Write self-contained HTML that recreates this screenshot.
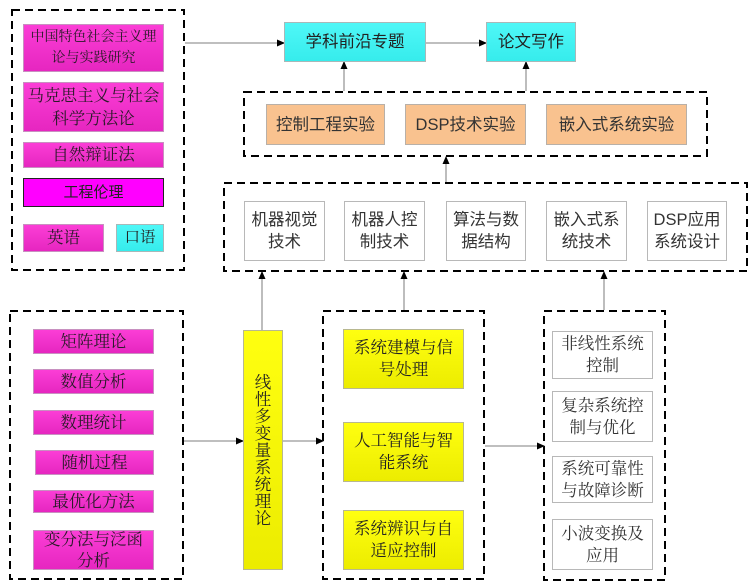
<!DOCTYPE html>
<html><head><meta charset="utf-8">
<style>
*{margin:0;padding:0;box-sizing:border-box}
body{width:750px;height:583px;background:#fff;position:relative;overflow:hidden}
.b{position:absolute;display:flex;align-items:center;justify-content:center;text-align:center;white-space:nowrap}
.sf{font-family:"Liberation Serif","Noto Serif CJK SC",serif}
.ss{font-family:"Liberation Sans","Noto Sans CJK SC",sans-serif}
.m{background:linear-gradient(#fb3ed6,#e626c0);border:1px solid #c890c0;color:#2a1a28}
.c{background:linear-gradient(#4ff7f7,#36ecec);border:1px solid #a8b8b8;color:#222}
.o{background:#f9c28f;border:1px solid #b8b0a8;color:#333}
.w{background:#fff;border:1.5px solid #b8b8b8;color:#333}
.y{background:linear-gradient(#ffff10,#ecec00);border:1px solid #b8b890;color:#222}
svg{position:absolute;left:0;top:0}
</style></head><body>
<svg width="750" height="583" viewBox="0 0 750 583">
<defs>
<marker id="a" markerWidth="8" markerHeight="8" refX="7" refY="4" orient="auto" markerUnits="userSpaceOnUse">
<path d="M0,0.5 L8,4 L0,7.5 Z" fill="#000"/></marker>
</defs>
<g fill="none" stroke="#000" stroke-width="2" stroke-dasharray="8 5">
<rect x="12" y="10" width="172" height="260"/>
<rect x="244" y="92" width="463" height="64"/>
<rect x="224" y="183" width="523" height="88"/>
<rect x="10" y="311" width="173" height="268"/>
<rect x="323" y="311" width="161" height="268"/>
<rect x="544" y="311" width="121" height="269"/>
</g>
<g stroke="#999" stroke-width="1.3" fill="none">
<line x1="185" y1="43" x2="284" y2="43" marker-end="url(#a)"/>
<line x1="426" y1="43" x2="486" y2="43" marker-end="url(#a)"/>
<line x1="344" y1="91" x2="344" y2="62" marker-end="url(#a)"/>
<line x1="526" y1="91" x2="526" y2="62" marker-end="url(#a)"/>
<line x1="446" y1="182" x2="446" y2="157" marker-end="url(#a)"/>
<line x1="262" y1="330" x2="262" y2="272" marker-end="url(#a)"/>
<line x1="404" y1="310" x2="404" y2="272" marker-end="url(#a)"/>
<line x1="604" y1="310" x2="604" y2="272" marker-end="url(#a)"/>
<line x1="184" y1="441" x2="243" y2="441" marker-end="url(#a)"/>
<line x1="283" y1="441" x2="323" y2="441" marker-end="url(#a)"/>
<line x1="485" y1="446" x2="544" y2="446" marker-end="url(#a)"/>
</g>
</svg>

<!-- left top -->
<div class="b m sf" style="left:23px;top:24px;width:141px;height:48px;font-size:14px;line-height:21px">中国特色社会主义理<br>论与实践研究</div>
<div class="b m sf" style="left:23px;top:82px;width:141px;height:50px;font-size:16.5px;line-height:23px">马克思主义与社会<br>科学方法论</div>
<div class="b m sf" style="left:23px;top:142px;width:141px;height:26px;font-size:16.5px;line-height:20px">自然辩证法</div>
<div class="b ss" style="left:23px;top:178px;width:141px;height:29px;font-size:15px;line-height:20px;background:#ff00ff;border:1.5px solid #222;color:#222">工程伦理</div>
<div class="b m sf" style="left:23px;top:224px;width:81px;height:28px;font-size:16.5px;line-height:20px">英语</div>
<div class="b c sf" style="left:116px;top:224px;width:48px;height:28px;font-size:15.5px;line-height:20px">口语</div>

<!-- top -->
<div class="b c ss" style="left:284px;top:22px;width:142px;height:40px;font-size:16.5px;line-height:22px">学科前沿专题</div>
<div class="b c ss" style="left:486px;top:22px;width:90px;height:40px;font-size:16.5px;line-height:22px">论文写作</div>

<div class="b o ss" style="left:266px;top:104px;width:119px;height:41px;font-size:16.5px;line-height:22px">控制工程实验</div>
<div class="b o ss" style="left:405px;top:104px;width:121px;height:41px;font-size:16.5px;line-height:22px">DSP技术实验</div>
<div class="b o ss" style="left:546px;top:104px;width:141px;height:41px;font-size:16.5px;line-height:22px">嵌入式系统实验</div>

<div class="b w ss" style="left:244px;top:201px;width:81px;height:60px;font-size:16.5px;line-height:22px">机器视觉<br>技术</div>
<div class="b w ss" style="left:344px;top:201px;width:81px;height:60px;font-size:16.5px;line-height:22px">机器人控<br>制技术</div>
<div class="b w ss" style="left:446px;top:201px;width:80px;height:60px;font-size:16.5px;line-height:22px">算法与数<br>据结构</div>
<div class="b w ss" style="left:546px;top:201px;width:81px;height:60px;font-size:16.5px;line-height:22px">嵌入式系<br>统技术</div>
<div class="b w ss" style="left:647px;top:201px;width:80px;height:60px;font-size:16.5px;line-height:22px">DSP应用<br>系统设计</div>

<!-- bottom left -->
<div class="b m sf" style="left:33px;top:329px;width:121px;height:25px;font-size:16.5px;line-height:20px">矩阵理论</div>
<div class="b m sf" style="left:33px;top:369px;width:121px;height:25px;font-size:16.5px;line-height:20px">数值分析</div>
<div class="b m sf" style="left:33px;top:410px;width:121px;height:25px;font-size:16.5px;line-height:20px">数理统计</div>
<div class="b m sf" style="left:35px;top:450px;width:119px;height:25px;font-size:16.5px;line-height:20px">随机过程</div>
<div class="b m sf" style="left:33px;top:490px;width:121px;height:23px;font-size:16.5px;line-height:20px">最优化方法</div>
<div class="b m sf" style="left:33px;top:530px;width:121px;height:40px;font-size:16.5px;line-height:21px;padding-bottom:1px">变分法与泛函<br>分析</div>

<!-- yellow vertical -->
<div class="b y sf" style="left:243px;top:330px;width:40px;height:240px;font-size:16.5px;line-height:17px">线<br>性<br>多<br>变<br>量<br>系<br>统<br>理<br>论</div>

<div class="b y sf" style="left:343px;top:329px;width:121px;height:60px;font-size:16.5px;line-height:22px">系统建模与信<br>号处理</div>
<div class="b y sf" style="left:343px;top:422px;width:121px;height:60px;font-size:16.5px;line-height:22px">人工智能与智<br>能系统</div>
<div class="b y sf" style="left:343px;top:510px;width:121px;height:60px;font-size:16.5px;line-height:22px">系统辨识与自<br>适应控制</div>

<!-- right -->
<div class="b w sf" style="left:552px;top:331px;width:101px;height:48px;font-size:16.5px;line-height:22px">非线性系统<br>控制</div>
<div class="b w sf" style="left:552px;top:391px;width:101px;height:51px;font-size:16.5px;line-height:22px">复杂系统控<br>制与优化</div>
<div class="b w sf" style="left:552px;top:456px;width:101px;height:47px;font-size:16.5px;line-height:22px">系统可靠性<br>与故障诊断</div>
<div class="b w sf" style="left:552px;top:519px;width:101px;height:51px;font-size:16.5px;line-height:22px">小波变换及<br>应用</div>
</body></html>
